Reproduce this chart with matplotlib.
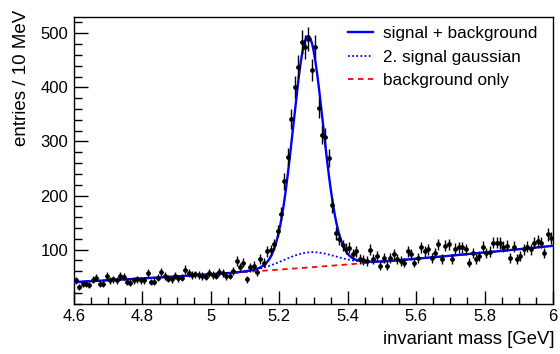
import numpy as np
import matplotlib
matplotlib.use("Agg")
import matplotlib.pyplot as plt
from matplotlib.ticker import MultipleLocator

plt.rcParams['font.family'] = ['Liberation Sans', 'DejaVu Sans']

# ---- data ----
bin_lo = 4.6
bin_width = 0.01
counts = [
    43, 31, 36, 36, 34, 44, 48, 37, 37, 51, 43, 45, 43, 51, 50, 40, 39, 43, 45, 43,
    43, 56, 40, 41, 48, 59, 51, 46, 45, 52, 47, 48, 63, 57, 53, 54, 53, 51, 50, 56,
    53, 52, 58, 56, 51, 52, 60,
    79, 67, 76, 45, 67, 70, 58, 82, 76, 97, 99, 110, 134, 165,
    226, 272, 342, 401, 438, 484, 475, 490, 432, 475, 362, 312, 308, 270,
    182, 130, 119, 108, 102, 103, 91, 97, 83, 81, 79, 100, 82, 88, 70, 85, 70,
    85, 91, 82, 79, 76, 97, 91, 76, 85, 104, 97, 101, 85, 94, 110, 82, 107, 110, 82, 102,
    104, 104, 101, 76,
    94, 82, 88, 105, 94, 96, 113, 113, 112, 105, 107, 85, 105, 83, 88, 101, 105, 101, 113, 116,
    113, 94, 128, 122,
]

# fit parameters
bkg_coef = [40.0, 31.2, 11.9]        # quadratic in (m - 4.6)
sig1 = [400.0, 5.284, 0.043]         # amplitude, mean, sigma (narrow gaussian)
sig2 = [28.0, 5.288, 0.075]          # amplitude, mean, sigma (2. signal gaussian)

legend_labels = ["signal + background", "2. signal gaussian", "background only"]
x_label = "invariant mass [GeV]"
y_label = "entries / 10 MeV"

# ---- figure ----
fig = plt.figure(figsize=(5.6, 3.54), dpi=100)
ax = fig.add_axes([74/560, 1-303.7/354, (553-74)/560, (303.7-17)/354])

counts_arr = np.array(counts, dtype=float)
centers = bin_lo + bin_width * (np.arange(len(counts)) + 0.5)

m = np.linspace(4.6, 6.0, 800)
t = m - bin_lo
bkg = bkg_coef[0] + bkg_coef[1]*t + bkg_coef[2]*t**2
g1 = sig1[0]*np.exp(-0.5*((m - sig1[1])/sig1[2])**2)
g2 = sig2[0]*np.exp(-0.5*((m - sig2[1])/sig2[2])**2)

l3, = ax.plot(m, bkg, color='red', ls=(0, (3, 2.5)), lw=1.3, zorder=2)
l2, = ax.plot(m, bkg + g2, color='blue', ls=(0, (1, 1.3)), lw=1.3, zorder=2)
l1, = ax.plot(m, bkg + g1 + g2, color='blue', lw=1.7, zorder=3)

ax.errorbar(centers, counts_arr, yerr=np.sqrt(counts_arr), xerr=bin_width/2,
            fmt='o', ms=2.4, color='black', ecolor='black', elinewidth=1.0,
            capsize=0, zorder=4)

ax.set_xlim(4.6, 6.0)
ax.set_ylim(0, 530)
ax.xaxis.set_minor_locator(MultipleLocator(0.05))
ax.yaxis.set_minor_locator(MultipleLocator(20))
ax.set_yticks([100, 200, 300, 400, 500])
ax.set_xticks([4.6, 4.8, 5.0, 5.2, 5.4, 5.6, 5.8, 6.0])
ax.set_xticklabels(["4.6", "4.8", "5", "5.2", "5.4", "5.6", "5.8", "6"])
ax.tick_params(which='major', direction='in', length=10, width=1.0, labelsize=12, pad=4)
ax.tick_params(which='minor', direction='in', length=5.5, width=1.0)
ax.tick_params(axis='x', which='major', length=9.5)
ax.tick_params(axis='x', which='minor', length=5)
for s in ax.spines.values():
    s.set_linewidth(1.0)

fig.text(555/560, 1-340/354, x_label, ha='right', va='center', fontsize=13.3)
fig.text(22/560, 1-10/354, y_label, ha='center', va='top', rotation=90, fontsize=13.5)

leg = ax.legend([l1, l2, l3], legend_labels, loc='upper left',
                bbox_to_anchor=((348-74)/479, 1-(26-17)/286.7), frameon=False,
                fontsize=12.3, handlelength=1.45, handletextpad=0.6,
                labelspacing=0.5, borderaxespad=0, borderpad=0)

fig.savefig("out.png", dpi=100)
